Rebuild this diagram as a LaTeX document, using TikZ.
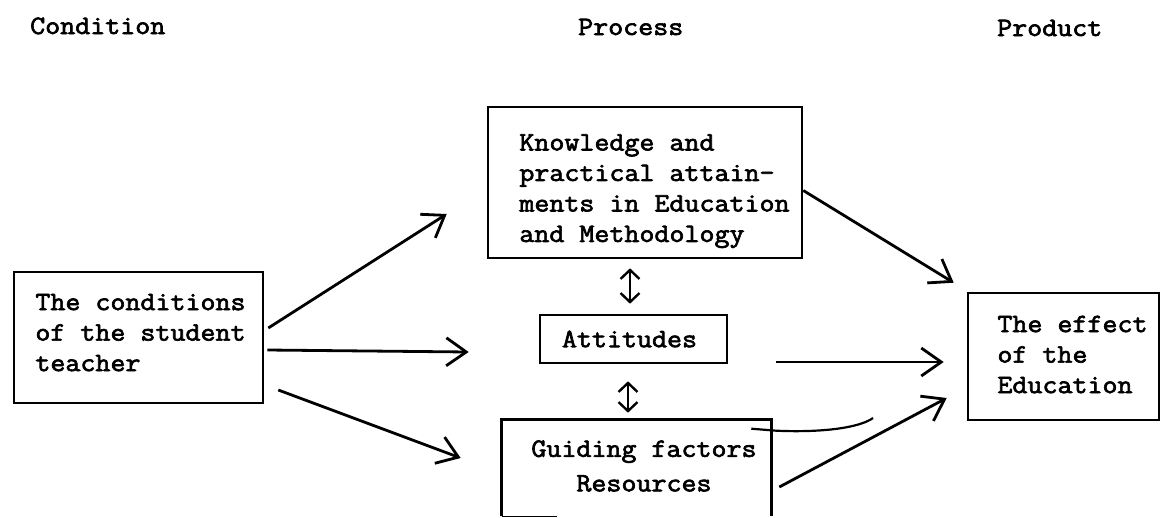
\documentclass[tikz,border=0pt]{standalone}
\usepackage{fontspec}
\newfontfamily\tw{Latin Modern Mono}[FakeStretch=1.1, FakeBold=2.5]
\usetikzlibrary{arrows.meta}
\newcommand{\nudge}[3]{\hspace*{#1}\raisebox{#2}[\height][\depth]{#3}\hspace*{-#1}}
\tikzset{
  tw/.style={font=\tw\fontsize{26.5}{30.5}\selectfont},
  box/.style={tw, draw, line width=2.6pt, inner sep=0pt},
  arr/.style={line width=2.8pt, -{Straight Barb[length=20pt,width=28pt]}},
  darr/.style={line width=2.4pt, {Straight Barb[length=9pt,width=19pt]}-{Straight Barb[length=9pt,width=19pt]}},
  head/.style={tw, anchor=base west, inner sep=0pt},
}
\begin{document}
\begin{tikzpicture}[x=1pt,y=-1pt]
\useasboundingbox (0,0) rectangle (1161,517);

% headings
\node[head] (hcond) at (30,34) {Condition};
\node[head] (hproc) at (578,35) {Process};
\node[head] (hprod) at (997,36) {Product};

% boxes
\node[box, minimum width=249, minimum height=131] (cond) at (138.5,337.5)
  {\nudge{2pt}{3pt}{\begin{tabular}{@{}l@{}}The conditions\\of the student\\teacher\end{tabular}}};
\node[box, minimum width=314, minimum height=151] (top) at (645,182.5)
  {\nudge{9.5pt}{-7.6pt}{\begin{tabular}{@{}l@{}}Knowledge and\\practical attain-\\ments in Education\\and Methodology\end{tabular}}};
\node[box, minimum width=187, minimum height=48] (att) at (633.5,339)
  {\nudge{-4pt}{0pt}{Attitudes}};
\node[box, draw=none, minimum width=267, minimum height=94] (guide) at (636.5,468)
  {\nudge{7.5pt}{0pt}{\begin{tabular}{@{}c@{}}Guiding factors\\[4pt]Resources\end{tabular}}};
\draw[line width=2.6pt] (guide.south west) -- (guide.north west) -- (guide.north east) -- (guide.south east);
\draw[line width=1.4pt] (guide.south west) -- ++(55,0);
\node[box, minimum width=191, minimum height=127] (eff) at (1063.5,356.5)
  {\nudge{9pt}{0pt}{\begin{tabular}{@{}l@{}}The effect\\of the\\Education\end{tabular}}};

% arrows from the condition
\draw[arr] ([shift={(4,-9.5)}]cond.east) -- ([shift={(-40,31.5)}]top.west);
\draw[arr] ([shift={(3,12.5)}]cond.east) -- ([shift={(-70,13)}]att.west);
\draw[arr] ([shift={(14,52.5)}]cond.east) -- ([shift={(-41,-10)}]guide.west);

% double arrows
\draw[darr] ([shift={(-15,9)}]top.south) -- ([shift={(-3.5,-10)}]att.north);
\draw[darr] ([shift={(-5.5,17)}]att.south) -- ([shift={(-8.5,-7)}]guide.north);

% arrows to the product
\draw[arr] ([shift={(0,8)}]top.east) -- ([shift={(-13,-9)}]eff.north west);
\draw[arr] ([shift={(48,23)}]att.east) -- ([shift={(-23,5.5)}]eff.west);
\draw[arr] ([shift={(8,19)}]guide.east) -- ([shift={(-20,41.5)}]eff.west);

% stray curve
\coordinate (cend) at (873,418);
\draw[line width=2.2pt] ([shift={(-20,9)}]guide.north east) -- ++(25,2)
  .. controls +(45,2) and +(-14,10) .. (cend);
\end{tikzpicture}
\end{document}
